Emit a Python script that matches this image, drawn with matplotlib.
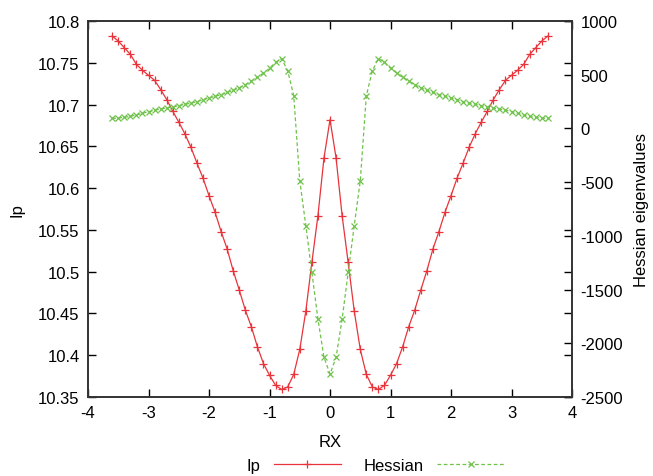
import numpy as np
import matplotlib
matplotlib.use("Agg")
import matplotlib.pyplot as plt
from matplotlib.lines import Line2D

plt.rcParams['font.family'] = ['Liberation Sans', 'DejaVu Sans']
plt.rcParams['axes.unicode_minus'] = False

# ---------- Datos (lado izquierdo, RX = -3.6 ... -0.1, paso 0.1) ----------
rx_left = [-3.6, -3.5, -3.4, -3.3, -3.2, -3.1, -3.0, -2.9, -2.8, -2.7,
           -2.6, -2.5, -2.4, -2.3, -2.2, -2.1, -2.0, -1.9, -1.8, -1.7,
           -1.6, -1.5, -1.4, -1.3, -1.2, -1.1, -1.0, -0.9, -0.8, -0.7,
           -0.6, -0.5, -0.4, -0.3, -0.2, -0.1]
ip_left = [10.782, 10.776, 10.768, 10.760, 10.748, 10.741, 10.735, 10.729,
           10.718, 10.706, 10.692, 10.679, 10.665, 10.649, 10.630, 10.612,
           10.591, 10.571, 10.548, 10.527, 10.501, 10.478, 10.454, 10.434,
           10.410, 10.390, 10.376, 10.364, 10.359, 10.362, 10.377, 10.407,
           10.453, 10.511, 10.567, 10.636]
hess_left = [94, 96, 103, 113, 125, 141, 156, 169, 181, 190,
             199, 212, 225, 234, 249, 267, 283, 299, 314, 336,
             355, 379, 407, 441, 476, 516, 560, 616, 650, 537,
             305, -487, -905, -1340, -1774, -2131]
ip_center = 10.682
hess_center = -2286

# Curva simétrica respecto a RX = 0
rx = rx_left + [0.0] + [-v for v in rx_left[::-1]]
ip = ip_left + [ip_center] + ip_left[::-1]
hess = hess_left + [hess_center] + hess_left[::-1]

red = '#e8343a'
green = '#6fc24a'

fig = plt.figure(figsize=(6.53, 4.77), dpi=100)
ax = fig.add_axes([0.1348, 0.1656, 0.7412, 0.7883])
ax2 = ax.twinx()

ax.plot(rx, ip, color=red, lw=0.9, marker='+', ms=6, mew=0.9)
ax2.plot(rx, hess, color=green, lw=0.9, ls=(0, (3, 2)), marker='x', ms=5, mew=0.9)

ax.set_xlim(-4, 4)
ax.set_ylim(10.35, 10.8)
ax2.set_ylim(-2500, 1000)
ax.set_xticks(np.arange(-4, 4.1, 1))
ax.set_yticks(np.arange(10.35, 10.801, 0.05))
ax.set_yticklabels(['10.35', '10.4', '10.45', '10.5', '10.55', '10.6',
                    '10.65', '10.7', '10.75', '10.8'])
ax2.set_yticks(np.arange(-2500, 1001, 500))

ax.tick_params(direction='in', length=6, width=1, labelsize=12,
               top=True, right=True, pad=6)
ax2.tick_params(direction='in', length=6, width=1, labelsize=12, pad=6)
for a in (ax, ax2):
    for s in a.spines.values():
        s.set_linewidth(1.2)
        s.set_color('#333333')

ax.set_xlabel('RX', fontsize=12, labelpad=10)
ax.set_ylabel('Ip', fontsize=12, labelpad=10)
ax2.set_ylabel('Hessian eigenvalues', fontsize=12, labelpad=8)

handles = [Line2D([], [], color=red, lw=0.9, marker='+', ms=6, mew=0.9),
           Line2D([], [], color=green, lw=0.9, ls=(0, (3, 2)), marker='x', ms=5, mew=0.9)]
fig.legend(handles, ['Ip', 'Hessian'], loc='center', bbox_to_anchor=(0.575, 0.022),
           ncol=2, frameon=False, markerfirst=False, fontsize=12,
           handlelength=4, columnspacing=1.4, numpoints=1,
           borderpad=0.1, borderaxespad=0)

fig.savefig('out.png', dpi=100)
